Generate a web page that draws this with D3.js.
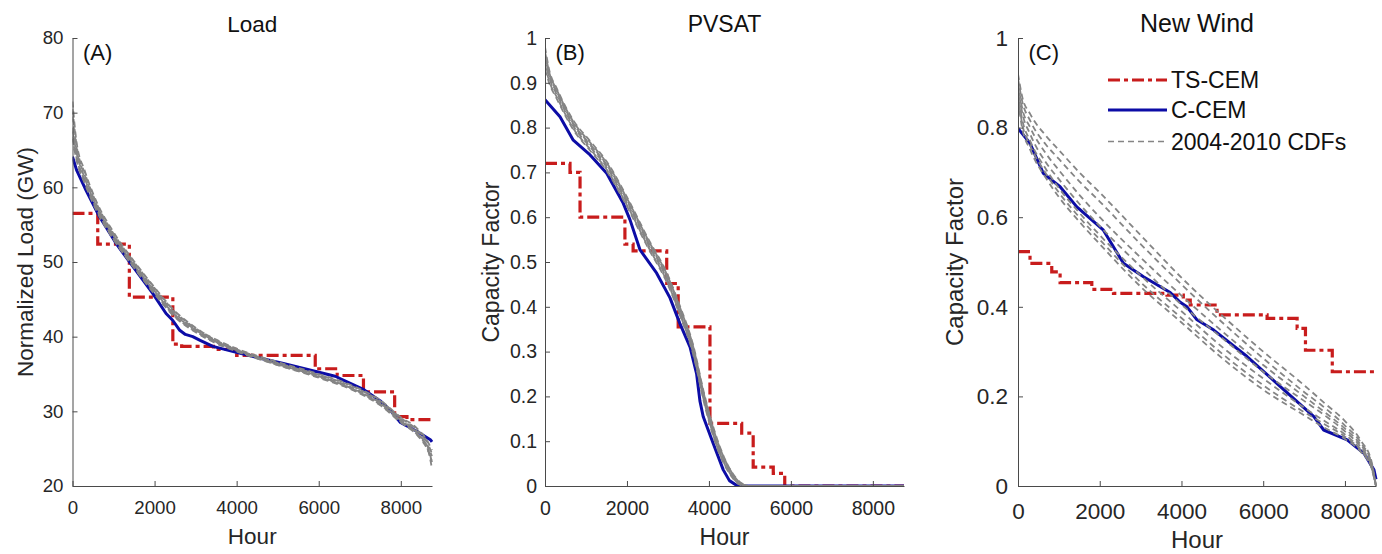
<!DOCTYPE html>
<html>
<head>
<meta charset="utf-8">
<script src="https://cdn.jsdelivr.net/npm/d3@7/dist/d3.min.js"></script>
<style>
  body { margin: 0; background: #fff; }
  svg { font-family: Arial, "Liberation Sans", sans-serif; }
</style>
</head>
<body>
<div class="chart"></div>
<script>
// ---- data ----
var hourTicks = [0, 2000, 4000, 6000, 8000];
var loadTicks = [20, 30, 40, 50, 60, 70, 80];
var pvTicks = [0, 0.1, 0.2, 0.3, 0.4, 0.5, 0.6, 0.7, 0.8, 0.9, 1];
var windTicks = [0, 0.2, 0.4, 0.6, 0.8, 1];
var legendLabels = ["TS-CEM", "C-CEM", "2004-2010 CDFs"];

// (A) Load
var loadTsHours = [0, 615, 1385, 2445, 2660, 3435, 4000, 5915, 6450, 7090, 7850, 8150, 8760];
var loadTsValues = [56.5, 52.4, 45.3, 39.0, 38.7, 38.3, 37.5, 35.7, 34.8, 32.6, 29.3, 28.9, 28.9];
var loadCcemHours = [0, 100, 330, 655, 1060, 1470, 1955, 2280, 2440, 2605, 2750, 2930, 3110, 3420, 3920, 4500, 5140, 5955, 6400, 6770, 7100, 7500, 7800, 7990, 8400, 8720, 8760];
var loadCcemValues = [64.1, 62.3, 59.6, 56.1, 52.5, 49.4, 45.8, 43.1, 42.2, 40.9, 40.3, 40.0, 39.5, 38.7, 38.0, 37.2, 36.4, 35.3, 34.7, 33.75, 32.9, 31.4, 29.8, 28.5, 27.3, 26.2, 25.9];
var loadCdfHours = [0, 100, 300, 600, 1000, 1500, 2000, 2500, 3000, 3500, 4000, 5000, 6000, 7000, 7500, 8000, 8400, 8650, 8760];
// one row per year, 2004-2010
var loadCdfs = [
  [71.5, 66.0, 62.2, 57.9, 54.0, 50.1, 46.6, 43.4, 41.2, 39.5, 38.3, 36.5, 34.8, 32.7, 31.2, 28.9, 27.3, 25.5, 23.0],
  [69.5, 65.2, 61.6, 57.5, 53.6, 49.8, 46.3, 43.1, 41.0, 39.4, 38.2, 36.3, 34.6, 32.5, 31.0, 28.7, 27.0, 25.1, 22.3],
  [68.0, 64.3, 61.0, 57.1, 53.3, 49.5, 46.0, 42.8, 40.8, 39.3, 38.1, 36.4, 34.9, 32.9, 31.4, 29.1, 27.5, 25.8, 24.3],
  [66.5, 63.6, 60.5, 56.7, 53.0, 49.2, 45.7, 42.6, 40.6, 39.1, 38.0, 36.2, 34.5, 32.4, 30.8, 28.5, 26.8, 24.9, 23.5],
  [70.5, 65.6, 61.9, 57.7, 53.8, 50.0, 46.5, 43.3, 41.1, 39.6, 38.4, 36.6, 35.0, 33.0, 31.5, 29.2, 27.7, 26.0, 24.8],
  [67.5, 64.6, 61.2, 57.3, 53.5, 49.6, 46.1, 42.9, 40.9, 39.3, 38.2, 36.3, 34.7, 32.6, 31.1, 28.8, 27.1, 25.3, 24.0],
  [66.8, 63.9, 60.8, 56.9, 53.1, 49.3, 45.9, 42.7, 40.7, 39.2, 38.1, 36.2, 34.6, 32.5, 30.9, 28.6, 26.9, 25.0, 23.2]
];

// (B) PVSAT
var pvTsHours = [0, 610, 855, 1950, 2150, 2970, 3250, 4025, 4800, 5080, 5570, 5850, 8760];
var pvTsValues = [0.72, 0.70, 0.60, 0.54, 0.525, 0.452, 0.355, 0.14, 0.118, 0.042, 0.028, 0.0, 0.0];
var pvCcemHours = [0, 366, 690, 1100, 1505, 1910, 2075, 2320, 2725, 3050, 3290, 3540, 3700, 3780, 3860, 4105, 4350, 4500, 4700, 8760];
var pvCcemValues = [0.862, 0.824, 0.772, 0.739, 0.698, 0.631, 0.594, 0.527, 0.475, 0.42, 0.363, 0.31, 0.25, 0.19, 0.155, 0.095, 0.036, 0.012, 0.0, 0.0];
var pvCdfHours = [0, 100, 300, 700, 1100, 1500, 2000, 2500, 3000, 3300, 3600, 3900, 4200, 4500, 4800, 5000, 8760];
var pvCdfs = [
  [0.98, 0.93, 0.885, 0.815, 0.77, 0.725, 0.645, 0.555, 0.47, 0.40, 0.32, 0.20, 0.105, 0.04, 0.006, 0, 0],
  [0.96, 0.92, 0.878, 0.808, 0.763, 0.718, 0.638, 0.548, 0.463, 0.393, 0.313, 0.193, 0.098, 0.037, 0.004, 0, 0],
  [0.95, 0.912, 0.872, 0.802, 0.757, 0.712, 0.632, 0.542, 0.457, 0.387, 0.307, 0.187, 0.092, 0.033, 0.003, 0, 0],
  [0.94, 0.905, 0.866, 0.797, 0.752, 0.707, 0.627, 0.537, 0.452, 0.382, 0.302, 0.182, 0.088, 0.030, 0.002, 0, 0],
  [0.97, 0.925, 0.882, 0.812, 0.767, 0.722, 0.642, 0.552, 0.467, 0.397, 0.317, 0.197, 0.102, 0.039, 0.005, 0, 0],
  [0.93, 0.90, 0.862, 0.794, 0.749, 0.704, 0.624, 0.534, 0.449, 0.379, 0.299, 0.179, 0.085, 0.028, 0.001, 0, 0],
  [0.955, 0.917, 0.876, 0.806, 0.761, 0.716, 0.636, 0.546, 0.461, 0.391, 0.311, 0.191, 0.096, 0.036, 0.004, 0, 0]
];

// (C) New Wind
var windTsHours = [0, 294, 826, 1030, 1806, 2336, 3645, 4045, 4215, 4870, 6095, 6830, 7034, 7690, 8760];
var windTsValues = [0.523, 0.497, 0.478, 0.454, 0.439, 0.43, 0.426, 0.415, 0.404, 0.382, 0.374, 0.352, 0.303, 0.255, 0.255];
var windCcemHours = [0, 294, 620, 1030, 1440, 2090, 2580, 3070, 3725, 3970, 4135, 4380, 4790, 5605, 6420, 7240, 7480, 8055, 8465, 8710, 8760];
var windCcemValues = [0.798, 0.765, 0.698, 0.668, 0.623, 0.571, 0.497, 0.467, 0.432, 0.41, 0.40, 0.371, 0.348, 0.289, 0.222, 0.155, 0.125, 0.103, 0.073, 0.036, 0.015];
var windCdfHours = [0, 100, 300, 700, 1000, 1500, 2000, 3000, 4000, 5000, 6000, 7000, 7500, 8000, 8400, 8650, 8760];
var windCdfs = [
  [0.92, 0.87, 0.83, 0.78, 0.75, 0.70, 0.655, 0.56, 0.465, 0.38, 0.30, 0.225, 0.185, 0.145, 0.10, 0.055, 0.0],
  [0.91, 0.86, 0.815, 0.76, 0.73, 0.68, 0.635, 0.54, 0.45, 0.365, 0.285, 0.21, 0.175, 0.135, 0.095, 0.05, 0.0],
  [0.90, 0.845, 0.80, 0.74, 0.705, 0.65, 0.60, 0.51, 0.425, 0.345, 0.27, 0.20, 0.165, 0.128, 0.09, 0.05, 0.0],
  [0.89, 0.835, 0.785, 0.72, 0.685, 0.63, 0.58, 0.49, 0.405, 0.33, 0.255, 0.19, 0.158, 0.122, 0.085, 0.045, 0.0],
  [0.88, 0.82, 0.77, 0.705, 0.665, 0.61, 0.56, 0.47, 0.39, 0.31, 0.24, 0.175, 0.145, 0.115, 0.08, 0.045, 0.0],
  [0.87, 0.81, 0.76, 0.695, 0.655, 0.60, 0.55, 0.455, 0.375, 0.295, 0.225, 0.165, 0.138, 0.11, 0.078, 0.04, 0.0],
  [0.86, 0.80, 0.75, 0.685, 0.645, 0.59, 0.54, 0.445, 0.365, 0.285, 0.215, 0.158, 0.13, 0.105, 0.075, 0.04, 0.0]
];

// ---- layout ----
var svgWidth = 1382;
var svgHeight = 554;
var plotTop = 38;
var plotBottom = 486;

var red = "#c81c1c";
var blue = "#0c0ca6";
var gray = "#858585";
var ink = "#262626";
var axisColor = "#4a4a4a";

var panels = [
  { id: "a", left: 72.5, right: 432, title: "Load", tag: "(A)", yLabel: "Normalized Load (GW)",
    yDomain: [20, 80], yTicks: loadTicks, tickFs: 18.7, labelFs: 22.5, titleFs: 22.5,
    xPad: 15, yPad: 9, yLabelX: 33, hourY: 544,
    tsH: loadTsHours, tsV: loadTsValues, cH: loadCcemHours, cV: loadCcemValues, gH: loadCdfHours, g: loadCdfs },
  { id: "b", left: 545, right: 904, title: "PVSAT", tag: "(B)", yLabel: "Capacity Factor",
    yDomain: [0, 1], yTicks: pvTicks, tickFs: 19.5, labelFs: 23, titleFs: 23,
    xPad: 15, yPad: 8, yLabelX: 499, hourY: 545,
    tsH: pvTsHours, tsV: pvTsValues, cH: pvCcemHours, cV: pvCcemValues, gH: pvCdfHours, g: pvCdfs },
  { id: "c", left: 1018, right: 1376, title: "New Wind", tag: "(C)", yLabel: "Capacity Factor",
    yDomain: [0, 1], yTicks: windTicks, tickFs: 22.5, labelFs: 24, titleFs: 25,
    xPad: 17, yPad: 10, yLabelX: 963, hourY: 548,
    tsH: windTsHours, tsV: windTsValues, cH: windCcemHours, cV: windCcemValues, gH: windCdfHours, g: windCdfs }
];

var svg = d3.select(".chart")
  .append("svg")
  .attr("width", svgWidth)
  .attr("height", svgHeight);

var defs = svg.append("defs");

panels.forEach(function(p) {
  var x = d3.scaleLinear().domain([0, 8760]).range([p.left, p.right]);
  var y = d3.scaleLinear().domain(p.yDomain).range([plotBottom, plotTop]);

  defs.append("clipPath").attr("id", "clip-" + p.id)
    .append("rect")
    .attr("x", p.left).attr("y", plotTop - 2)
    .attr("width", p.right - p.left + 2).attr("height", plotBottom - plotTop + 3);

  var g = svg.append("g");
  var lines = g.append("g").attr("clip-path", "url(#clip-" + p.id + ")");

  // TS-CEM step profile
  var stepLine = d3.line()
    .x(function(d) { return x(d[0]); })
    .y(function(d) { return y(d[1]); })
    .curve(d3.curveStepAfter);
  lines.append("path")
    .datum(d3.zip(p.tsH, p.tsV))
    .attr("d", stepLine)
    .attr("fill", "none")
    .attr("stroke", red)
    .attr("stroke-width", 3.2)
    .attr("stroke-dasharray", "12,4,4,4");

  // C-CEM curve
  var plainLine = d3.line()
    .x(function(d) { return x(d[0]); })
    .y(function(d) { return y(d[1]); });
  lines.append("path")
    .datum(d3.zip(p.cH, p.cV))
    .attr("d", plainLine)
    .attr("fill", "none")
    .attr("stroke", blue)
    .attr("stroke-width", 3)
    .attr("stroke-linejoin", "round");

  // yearly CDFs
  var smoothLine = d3.line()
    .x(function(d) { return x(d[0]); })
    .y(function(d) { return y(d[1]); })
    .curve(d3.curveMonotoneX);
  p.g.forEach(function(vals) {
    lines.append("path")
      .datum(d3.zip(p.gH, vals))
      .attr("d", smoothLine)
      .attr("fill", "none")
      .attr("stroke", gray)
      .attr("stroke-width", 1.8)
      .attr("stroke-dasharray", "6,4");
  });

  // axes, MATLAB style: inward ticks, no box
  var bottomAxis = d3.axisBottom(x).tickValues(hourTicks)
    .tickSizeInner(-5).tickSizeOuter(0).tickPadding(p.xPad)
    .tickFormat(d3.format("d"));
  var leftAxis = d3.axisLeft(y).tickValues(p.yTicks)
    .tickSizeInner(-5).tickSizeOuter(0).tickPadding(p.yPad)
    .tickFormat(function(d) { return String(+d.toFixed(1)); });

  var xa = g.append("g")
    .attr("transform", "translate(0," + plotBottom + ")")
    .call(bottomAxis);
  var ya = g.append("g")
    .attr("transform", "translate(" + p.left + ",0)")
    .call(leftAxis);

  [xa, ya].forEach(function(a) {
    a.selectAll("path, line").attr("stroke", axisColor);
    a.selectAll("text")
      .attr("fill", ink)
      .style("font-size", p.tickFs + "px")
      .style("font-family", "Arial, 'Liberation Sans', sans-serif");
  });

  // titles and labels
  g.append("text")
    .attr("x", (p.left + p.right) / 2)
    .attr("y", 32)
    .attr("text-anchor", "middle")
    .attr("fill", "#111")
    .style("font-size", p.titleFs + "px")
    .text(p.title);

  g.append("text")
    .attr("x", p.left + 10.5)
    .attr("y", 60)
    .attr("fill", "#111")
    .style("font-size", "22px")
    .text(p.tag);

  g.append("text")
    .attr("x", (p.left + p.right) / 2)
    .attr("y", p.hourY)
    .attr("text-anchor", "middle")
    .attr("fill", ink)
    .style("font-size", p.labelFs + "px")
    .text("Hour");

  g.append("text")
    .attr("transform", "translate(" + p.yLabelX + "," + ((plotTop + plotBottom) / 2) + ") rotate(-90)")
    .attr("text-anchor", "middle")
    .attr("fill", ink)
    .style("font-size", p.labelFs + "px")
    .text(p.yLabel);
});

// legend inside panel C
var legendStyles = [
  { stroke: red, width: 3.2, dash: "12,4,4,4" },
  { stroke: blue, width: 3, dash: null },
  { stroke: gray, width: 1.6, dash: "6,4" }
];
var legendY = [80, 110, 141.5];
var legend = svg.append("g");
legendLabels.forEach(function(label, i) {
  legend.append("line")
    .attr("x1", 1108).attr("x2", 1167)
    .attr("y1", legendY[i]).attr("y2", legendY[i])
    .attr("stroke", legendStyles[i].stroke)
    .attr("stroke-width", legendStyles[i].width)
    .attr("stroke-dasharray", legendStyles[i].dash);
  legend.append("text")
    .attr("x", 1171)
    .attr("y", legendY[i])
    .attr("dy", "0.35em")
    .attr("fill", "#111")
    .style("font-size", "23px")
    .text(label);
});
</script>
</body>
</html>
